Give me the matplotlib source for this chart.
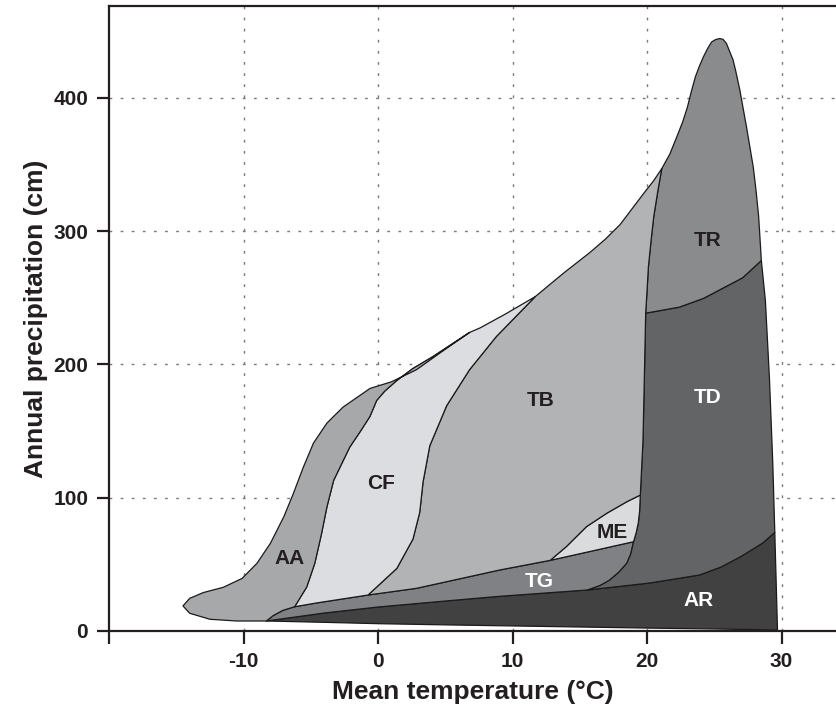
import matplotlib
matplotlib.use("Agg")
import matplotlib.pyplot as plt
from matplotlib.patches import Polygon

plt.rcParams['font.family'] = ['Liberation Sans', 'DejaVu Sans']
plt.rcParams['font.weight'] = 'bold'

# Boundary curves of the biome regions (temperature °C, precipitation cm)
ar_bottom = [(-8.3, 7.5), (-4, 6.5), (0, 5.5), (5, 4.6), (10, 3.8), (15, 3.0),
             (20, 2.2), (25, 1.5), (29.7, 0.8)]
ar_top_left = [(-8.3, 7.5), (-4, 13.5), (0, 18), (5, 22.5), (9, 26), (15.6, 30.8)]
ar_top_right = [(15.6, 30.8), (20.2, 36), (23.9, 42), (25.5, 48), (27, 56),
                (28.6, 66), (29.5, 74)]
td_right = [(29.5, 74), (29.35, 126), (29.1, 190), (28.8, 248), (28.5, 278)]
tr_td = [(19.9, 238.5), (22.4, 243), (24.2, 249.6), (27.1, 265), (28.5, 278)]
tr_outer = [(28.5, 278), (28.3, 311), (28.1, 331), (27.9, 348), (27.4, 378),
            (26.9, 406), (26.6, 420), (26.4, 428.5), (26.1, 436), (25.9, 441),
            (25.65, 444), (25.4, 444.6), (25.1, 443.8), (24.8, 442), (24.5, 437),
            (24.2, 431), (23.9, 424), (23.6, 416), (23.3, 405), (23.0, 393),
            (22.65, 382), (22.3, 373), (21.7, 358), (21.1, 347)]
td_left_low = [(15.6, 30.8), (16.5, 34), (17.2, 38), (17.9, 44), (18.5, 50.8),
               (18.8, 58), (19.0, 67)]
td_left_mid = [(19.0, 67), (19.2, 74), (19.35, 81), (19.45, 90), (19.5, 102)]
td_left_high = [(19.5, 102), (19.7, 143), (19.8, 190), (19.9, 238.5)]
td_left_top = [(19.9, 238.5), (20.0, 255), (20.1, 273), (20.3, 293), (20.5, 311),
               (20.8, 330), (21.1, 347)]
tb_outer = [(21.1, 347), (20.5, 338), (19.8, 329), (19.2, 321), (18.0, 305),
            (16.9, 294), (15.75, 284), (13.8, 268.6), (11.7, 251)]
cf_outer = [(11.7, 251), (9.5, 238), (7.6, 227.5), (6.8, 224)]
aa_outer = [(6.8, 224), (4.8, 210), (2.85, 196), (1.0, 187), (-0.6, 182),
            (-2.6, 168), (-3.8, 156), (-4.8, 141), (-5.55, 123), (-6.3, 103),
            (-7.0, 85.8), (-8.0, 65.8), (-9.0, 50.8), (-10.1, 39.5), (-11.5, 32.8),
            (-13.0, 28.8), (-14.0, 24.5), (-14.5, 18.8), (-14.0, 13.3),
            (-12.5, 8.8), (-10.5, 7.5), (-8.3, 7.5)]
tg_top_aa = [(-8.3, 7.5), (-7.8, 11.5), (-7.07, 15.5), (-6.2, 18.2)]
tg_top_cf = [(-6.2, 18.2), (-4.6, 21), (-0.74, 27)]
tg_top_tb = [(-0.74, 27), (2.85, 32), (9.06, 45.8), (12.8, 53)]
me_bottom = [(12.8, 53), (19.0, 67)]
me_top = [(12.8, 53), (14.0, 63.3), (15.5, 78.3), (17.0, 88.3), (18.5, 97), (19.5, 102)]
aa_cf = [(6.8, 224), (4.1, 206), (2.6, 197), (1.4, 188), (0.5, 180),
         (-0.1, 173), (-0.6, 161), (-1.3, 150), (-2.1, 138), (-3.3, 113),
         (-3.8, 93), (-4.2, 73), (-4.7, 50.8), (-5.3, 33), (-6.2, 18.2)]
cf_tb = [(11.7, 251), (8.8, 221), (6.8, 196), (5.1, 169), (3.85, 139),
         (3.35, 112), (3.1, 89), (2.6, 69), (1.4, 47), (-0.74, 27)]

biomes = ["AR", "TG", "TD", "TR", "ME", "TB", "CF", "AA"]
colors = {"AR": "#414141", "TG": "#808184", "TD": "#636466", "TR": "#8a8b8d",
          "ME": "#dadbdd", "TB": "#b2b3b5", "CF": "#dcdde0", "AA": "#a7a8aa"}
label_pos = {"AR": (23.8, 23), "TG": (12.0, 37), "TD": (24.5, 175),
             "TR": (24.5, 293), "ME": (17.4, 74), "TB": (12.1, 173),
             "CF": (0.2, 111), "AA": (-6.6, 54.5)}
label_color = {"AR": "white", "TG": "white", "TD": "white", "TR": "#231f20",
               "ME": "#231f20", "TB": "#231f20", "CF": "#231f20", "AA": "#231f20"}

rev = lambda c: c[::-1]
shapes = {
    "AR": ar_bottom + [(29.5, 74)] + rev(ar_top_right) + rev(ar_top_left),
    "TG": ar_top_left + td_left_low + rev(me_bottom) + rev(tg_top_tb)
          + rev(tg_top_cf) + rev(tg_top_aa),
    "TD": ar_top_right + td_right + rev(tr_td) + rev(td_left_high)
          + rev(td_left_mid) + rev(td_left_low),
    "TR": tr_td + tr_outer + rev(td_left_top),
    "ME": me_top + rev(td_left_mid) + rev(me_bottom),
    "TB": tg_top_tb + me_top + td_left_high + td_left_top + tb_outer + cf_tb,
    "CF": tg_top_cf + rev(cf_tb) + cf_outer + aa_cf,
    "AA": aa_outer + tg_top_aa + rev(aa_cf),
}

fig = plt.figure(figsize=(8.36, 7.1), dpi=100)
ax = fig.add_axes([109 / 836, 79 / 710, 727 / 836, 625 / 710])

for b in biomes:
    ax.add_patch(Polygon(shapes[b], closed=True, facecolor=colors[b],
                         edgecolor="#1a1a1a", linewidth=0.9, joinstyle="round",
                         zorder=2))
    x, y = label_pos[b]
    ax.text(x, y, b, ha="center", va="center", fontsize=15, fontweight="bold",
            color=label_color[b], zorder=3)

ax.set_xlim(-20, 34.05)
ax.set_ylim(0, 469)
ax.set_xticks([-20, -10, 0, 10, 20, 30])
ax.set_xticklabels(["", "-10", "0", "10", "20", "30"])
ax.set_yticks([0, 100, 200, 300, 400])
for v in [-10, 0, 10, 20, 30]:
    ax.axvline(v, color="#7a7a7a", linestyle=(0, (2, 6)), linewidth=1, zorder=1)
for v in [100, 200, 300, 400]:
    ax.axhline(v, color="#7a7a7a", linestyle=(0, (2, 6)), linewidth=1, zorder=1)

ax.spines["right"].set_visible(False)
for s in ["left", "top", "bottom"]:
    ax.spines[s].set_linewidth(1.6)
    ax.spines[s].set_color("#231f20")
ax.tick_params(direction="out", length=9, width=1.6, labelsize=15, pad=6,
               color="#231f20", labelcolor="#231f20")
for t in ax.get_xticklabels() + ax.get_yticklabels():
    t.set_fontweight("bold")

ax.set_xlabel("Mean temperature (°C)", fontsize=19, fontweight="bold",
              color="#231f20")
ax.set_ylabel("Annual precipitation (cm)", fontsize=19, fontweight="bold",
              color="#231f20")
ax.xaxis.set_label_coords(0.5, -0.078)
ax.yaxis.set_label_coords(-0.084, 0.5)

plt.savefig("out.png", dpi=100)
